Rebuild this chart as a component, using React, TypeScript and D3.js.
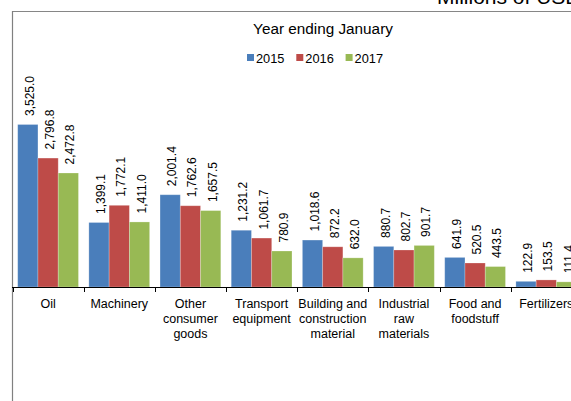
import React, { useEffect, useRef } from 'react';
import * as d3 from 'd3';

// categories (label lines) and the three years' values, millions of USD
const categories = [
    ['Oil'],
    ['Machinery'],
    ['Other', 'consumer', 'goods'],
    ['Transport', 'equipment'],
    ['Building and', 'construction', 'material'],
    ['Industrial', 'raw', 'materials'],
    ['Food and', 'foodstuff'],
    ['Fertilizers'],
];
const years = ['2015', '2016', '2017'];
const values2015 = [3525.0, 1399.1, 2001.4, 1231.2, 1018.6, 880.7, 641.9, 122.9];
const values2016 = [2796.8, 1772.1, 1762.6, 1061.7, 872.2, 802.7, 520.5, 153.5];
const values2017 = [2472.8, 1411.0, 1657.5, 780.9, 632.0, 901.7, 443.5, 111.4];
const colors = ['#4A7EBB', '#BE4B48', '#98B954'];

const FONT = '"Liberation Sans", Arial, sans-serif';

export default function App() {
    const ref = useRef<SVGSVGElement>(null);

    useEffect(() => {
        const svg = d3.select(ref.current);
        svg.selectAll('*').remove();

        const keys = categories.map(c => c.join(' '));
        const series = [values2015, values2016, values2017];
        const baseY = 287;

        const x0 = d3.scaleBand().domain(keys).range([12.5, 12.5 + 8 * 71.17]);
        const x1 = d3.scaleBand().domain(years).range([5.2, x0.bandwidth() - 5.2]);
        const y = d3.scaleLinear().domain([0, 4000]).range([baseY, baseY - 4000 * 0.0461]);
        const fmt = d3.format(',.1f');

        // outer title, cut by the window
        svg.append('text').attr('x', 437).attr('y', 3.5).attr('font-size', 21)
            .attr('font-family', FONT).attr('fill', '#000').text('Millions of USD');

        // chart box
        svg.append('line').attr('x1', 12).attr('x2', 571).attr('y1', 11.5).attr('y2', 11.5)
            .attr('stroke', '#868686').attr('stroke-width', 1.2);
        svg.append('line').attr('x1', 12.5).attr('x2', 12.5).attr('y1', 11).attr('y2', 401)
            .attr('stroke', '#808080').attr('stroke-width', 1.2);

        svg.append('text').attr('x', 323).attr('y', 34).attr('text-anchor', 'middle')
            .attr('font-size', 15.3).attr('font-family', FONT).text('Year ending January');

        const legend = svg.append('g').attr('transform', 'translate(247, 0)');
        years.forEach((yr, i) => {
            const g = legend.append('g').attr('transform', `translate(${i * 49.3}, 0)`);
            g.append('rect').attr('x', 0).attr('y', 54).attr('width', 7).attr('height', 7).attr('fill', colors[i]);
            g.append('text').attr('x', 9).attr('y', 62.7).attr('font-size', 12.8)
                .attr('font-family', FONT).text(yr);
        });

        const groups = svg.append('g').selectAll('g').data(keys).enter().append('g')
            .attr('transform', d => `translate(${x0(d)}, 0)`);

        groups.each(function (d, ci) {
            const g = d3.select(this);
            years.forEach((yr, si) => {
                const v = series[si][ci];
                const bx = x1(yr)!;
                g.append('rect').attr('x', bx).attr('y', y(v)).attr('width', x1.bandwidth())
                    .attr('height', baseY - y(v)).attr('fill', colors[si])
                    .attr('stroke', '#ffffff').attr('stroke-opacity', 0.3).attr('stroke-width', 0.8);
                const cx = bx + x1.bandwidth() / 2;
                g.append('text').attr('transform', `translate(${cx}, ${y(v) - 8.5}) rotate(-90)`)
                    .attr('dy', '0.5em').attr('font-size', 12).attr('font-family', FONT)
                    .text(fmt(v));
            });
            const lbl = g.append('text').attr('text-anchor', 'middle').attr('font-size', 12.5)
                .attr('font-family', FONT);
            categories[ci].forEach((line, li) => {
                lbl.append('tspan').attr('x', x0.bandwidth() / 2).attr('y', 308.3 + li * 15).text(line);
            });
        });

        // category axis
        svg.append('line').attr('x1', 12).attr('x2', 571).attr('y1', baseY + 0.5).attr('y2', baseY + 0.5)
            .attr('stroke', '#000').attr('stroke-width', 1);
        d3.range(keys.length + 1).forEach(i => {
            const tx = Math.round(12.5 + i * x0.step()) + 0.5;
            svg.append('line').attr('x1', tx).attr('x2', tx).attr('y1', baseY).attr('y2', baseY + 5)
                .attr('stroke', '#000').attr('stroke-width', 1);
        });
    }, []);

    return (
        <svg ref={ref} width={571} height={401}
            style={{ position: 'absolute', left: 0, top: 0, display: 'block', background: '#fff' }} />
    );
}
